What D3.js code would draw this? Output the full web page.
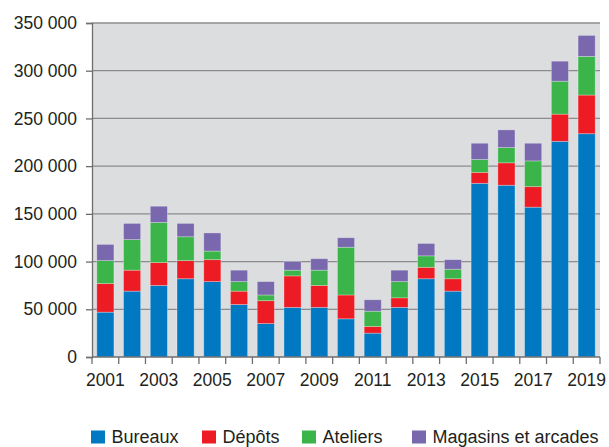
<!DOCTYPE html>
<html>
<head>
<meta charset="utf-8">
<script src="https://cdn.jsdelivr.net/npm/d3@7"></script>
<style>
  body { margin: 0; background: #fff; }
  text { font-family: "Liberation Sans", Arial, sans-serif; fill: #231f20; }
</style>
</head>
<body>
<svg id="chart"></svg>
<script>
// years on the x axis
const years = d3.range(2001, 2020).map(String);
// values per category (m²)
const bureaux  = [47, 69, 75, 82, 79, 55, 35, 52, 52, 40, 25, 52, 82, 69, 182, 180, 157, 226, 234].map(v => v * 1000);
const depots   = [30, 22, 24, 19, 23, 14, 24, 33, 23, 25, 7, 10, 12, 13, 11.5, 23.5, 21.5, 28.5, 40.5].map(v => v * 1000);
const ateliers = [24, 32, 42, 25, 9, 10, 6, 6, 16, 50, 16, 17, 12, 10, 13.5, 16, 27, 34.5, 40.5].map(v => v * 1000);
const magasins = [17, 17, 17, 14, 19, 12, 14, 9, 12, 10, 12, 12, 13, 10, 17, 18.5, 18.5, 21, 22].map(v => v * 1000);
const seriesNames = ["Bureaux", "Dépôts", "Ateliers", "Magasins et arcades"];
const colors = ["#0079c2", "#ed1c24", "#3bb54a", "#7a68ae"];
const yTicks = [0, 50000, 100000, 150000, 200000, 250000, 300000, 350000];

const W = 609, H = 447;
const margin = {top: 23, right: 9, bottom: 90, left: 92};
const width = W - margin.left - margin.right;
const height = H - margin.top - margin.bottom;

const rows = years.map((y, i) => ({
  year: y, "Bureaux": bureaux[i], "Dépôts": depots[i],
  "Ateliers": ateliers[i], "Magasins et arcades": magasins[i]
}));
const stacked = d3.stack().keys(seriesNames)(rows);

const svg = d3.select("#chart").attr("width", W).attr("height", H);
const g = svg.append("g").attr("transform", `translate(${margin.left},${margin.top})`);

const x = d3.scaleBand().domain(years).range([0, width]).paddingInner(0.36).paddingOuter(0.18);
const y = d3.scaleLinear().domain([0, 350000]).range([height, 0]);

// plot background
g.append("rect").attr("width", width).attr("height", height).attr("fill", "#dcdddf");

// gridlines
g.append("g").selectAll("line")
  .data(yTicks.slice(1))
  .join("line")
  .attr("x1", 0).attr("x2", width)
  .attr("y1", d => y(d)).attr("y2", d => y(d))
  .attr("stroke", "#8c8c8e").attr("stroke-width", 1.3);

// bars
g.append("g").selectAll("g")
  .data(stacked)
  .join("g")
  .attr("fill", (d, i) => colors[i])
  .selectAll("rect")
  .data(d => d)
  .join("rect")
  .attr("x", d => x(d.data.year))
  .attr("width", x.bandwidth())
  .attr("y", d => y(d[1]))
  .attr("height", d => y(d[0]) - y(d[1]))
  .attr("stroke", "rgba(255,255,255,0.35)")
  .attr("stroke-width", 0.8);

// y axis
const yAxis = g.append("g")
  .call(d3.axisLeft(y).tickValues(yTicks).tickSize(6).tickPadding(9)
    .tickFormat(d => d3.format(",")(d).replace(/,/g, " ")));
yAxis.select(".domain").attr("stroke", "#6d6e70").attr("stroke-width", 1.3);
yAxis.selectAll(".tick line").attr("stroke", "#6d6e70").attr("stroke-width", 1.3);
yAxis.selectAll("text").attr("font-size", 17.5).attr("fill", "#231f20")
  .attr("font-family", "Liberation Sans, Arial, sans-serif");

// x axis: ticks between bars, labels on odd years
const step = x.step();
const xTickPos = d3.range(years.length + 1).map(i => i * step);
const xAxis = g.append("g").attr("transform", `translate(0,${height})`);
xAxis.append("line").attr("x1", 0).attr("x2", width)
  .attr("stroke", "#6d6e70").attr("stroke-width", 1.3);
xAxis.selectAll(".xt").data(xTickPos).join("line")
  .attr("class", "xt")
  .attr("x1", d => d).attr("x2", d => d)
  .attr("y1", 0).attr("y2", 7)
  .attr("stroke", "#6d6e70").attr("stroke-width", 1.3);
xAxis.selectAll("text").data(years.filter((d, i) => i % 2 === 0)).join("text")
  .attr("x", d => x(d) + x.bandwidth() / 2)
  .attr("y", 29)
  .attr("text-anchor", "middle")
  .attr("font-size", 17.5)
  .text(d => d);

// legend
const legendX = [91, 202, 302, 412];
const legend = svg.append("g").selectAll("g")
  .data(seriesNames)
  .join("g")
  .attr("transform", (d, i) => `translate(${legendX[i]},430.5)`);
legend.append("rect").attr("width", 14).attr("height", 13).attr("fill", (d, i) => colors[i]);
legend.append("text").attr("x", 20.5).attr("y", 12.7).attr("font-size", 18).text(d => d);
</script>
</body>
</html>
